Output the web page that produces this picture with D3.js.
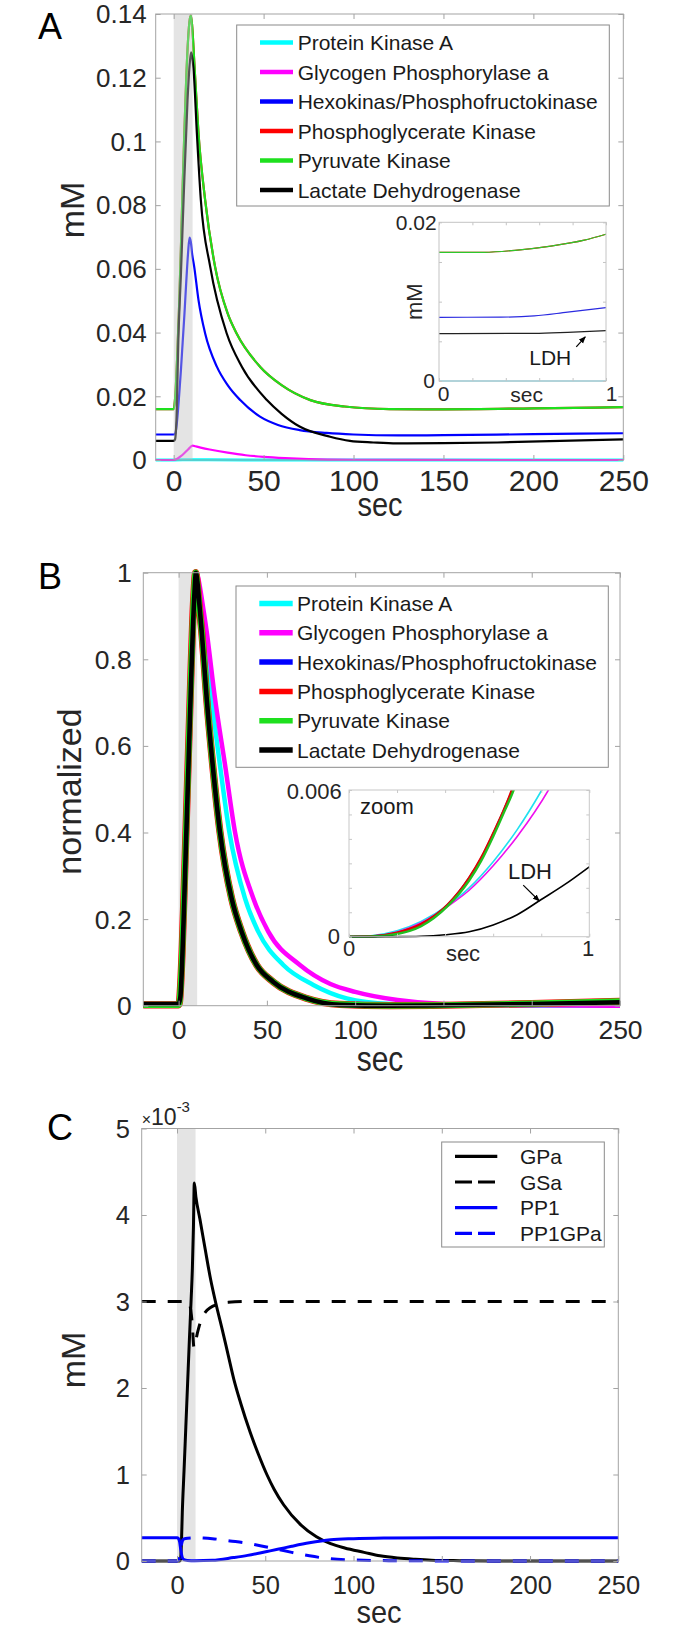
<!DOCTYPE html>
<html>
<head>
<meta charset="utf-8">
<script src="https://cdn.jsdelivr.net/npm/d3@7/dist/d3.min.js"></script>
<style>
html,body{margin:0;padding:0;background:#fff;}
svg text{font-family:"Liberation Sans",Arial,Helvetica,sans-serif;}
</style>
</head>
<body>
<svg id="fig" width="676" height="1632" xmlns="http://www.w3.org/2000/svg"></svg>
<script>
// ================= DATA =================
const seriesNames = ["Protein Kinase A","Glycogen Phosphorylase a","Hexokinas/Phosphofructokinase","Phosphoglycerate Kinase","Pyruvate Kinase","Lactate Dehydrogenase"];
const xTicks = [0,50,100,150,200,250];
const xTickLabels = ["0","50","100","150","200","250"];
const stimWindow = [0, 10.5];

// ---- Panel A (mM) ----
const yTicksA = [0,0.02,0.04,0.06,0.08,0.1,0.12,0.14];
const yTickLabelsA = ["0","0.02","0.04","0.06","0.08","0.1","0.12","0.14"];
const pkaA = [[-10,0],[0,0],[10,0.0001],[40,0.00003],[100,0],[250,0]];
const gpaA = [[-10,0],[0,0],[2,0.0004],[4,0.0012],[6,0.0022],[8,0.0033],[10.5,0.0045],[12,0.0043],[15,0.0039],[20,0.0033],[30,0.0023],[40,0.0015],[50,0.001],[62,0.0006],[75,0.0003],[100,0.00008],[130,0.00002],[250,0]];
const hkA = [[-10,0.008],[0,0.008],[0.5,0.0081],[1,0.0085],[2,0.013],[3,0.02],[4,0.028],[5,0.037],[6,0.046],[7,0.056],[8,0.065],[8.8,0.0698],[9.5,0.0685],[10.3,0.0645],[11.4,0.0607],[13.8,0.0502],[17.5,0.0397],[24,0.0293],[30,0.0235],[37,0.0188],[48,0.0136],[58,0.011],[70,0.0094],[85,0.0085],[100,0.008],[125,0.0077],[150,0.0078],[200,0.0081],[250,0.0084]];
const pkA = [[-10,0.016],[0,0.016],[1,0.021],[2,0.033],[3,0.048],[4,0.066],[5,0.086],[6,0.104],[7,0.12],[8,0.132],[9,0.1385],[9.6,0.1395],[10.3,0.136],[11.6,0.1234],[13.8,0.1025],[17.5,0.0816],[23,0.0607],[30,0.046],[35,0.0397],[48,0.0293],[60,0.0235],[76,0.0188],[95,0.0168],[120,0.016],[150,0.0159],[200,0.0162],[250,0.0166]];
const pgkA = pkA.map(d => [d[0], d[1]]);
const ldhA = [[-10,0.006],[0,0.006],[0.8,0.0065],[1.5,0.012],[2.7,0.0397],[4,0.058],[5.5,0.0816],[7.7,0.113],[9,0.125],[9.7,0.128],[10.5,0.1255],[11,0.123],[12.9,0.1025],[15.1,0.0816],[20.3,0.0607],[29.5,0.0397],[37.9,0.0293],[51.8,0.0188],[60,0.0145],[70,0.0105],[87,0.0073],[98,0.006],[111,0.0055],[124,0.0052],[150,0.0053],[180,0.0055],[215,0.006],[250,0.0065]];

// ---- Inset A (0-1 sec) ----
const inXTicksA = [0,0.2,0.4,0.6,0.8,1];
const inYTicksA = [0,0.005,0.01,0.015,0.02];
const pkaInA = [[0,0],[1,0]];
const gpaInA = [[0,0],[1,0]];
const hkInA = [[0,0.00803],[0.37,0.00805],[0.57,0.0082],[0.77,0.00868],[1,0.00924]];
const pkInA = [[0,0.0162],[0.27,0.01622],[0.47,0.0165],[0.67,0.017],[0.87,0.01775],[1,0.0185]];
const pgkInA = pkInA.map(d => [d[0], d[1]]);
const ldhInA = [[0,0.00597],[0.57,0.006],[0.77,0.00613],[1,0.00634]];

// ---- Panel B (normalized) ----
const yTicksB = [0,0.2,0.4,0.6,0.8,1];
const yTickLabelsB = ["0","0.2","0.4","0.6","0.8","1"];
const pkaB = [[-20,0],[0,0],[1,0.02],[2,0.1],[3,0.22],[4,0.35],[5,0.48],[6,0.61],[7,0.74],[8,0.86],[9,0.95],[10,1.0],[11,0.98],[12.5,0.93],[14.9,0.864],[18.7,0.71],[23.4,0.556],[28.7,0.402],[37.6,0.248],[45.1,0.171],[59.3,0.094],[76.3,0.048],[95.2,0.017],[120,0.004],[150,0.001],[200,0],[250,0]];
const gpaB = [[-20,0],[0,0],[1,0.02],[2,0.1],[3,0.22],[4,0.35],[5,0.48],[6,0.61],[7,0.74],[8,0.86],[9,0.95],[10.2,1.0],[11.5,0.98],[13.5,0.93],[15.9,0.864],[20.6,0.71],[26.3,0.556],[31.9,0.402],[42.3,0.248],[50.8,0.171],[68.7,0.094],[86,0.05],[100,0.032],[124,0.013],[150,0.004],[200,0.001],[250,0]];
const hkB = [[-20,0.002],[0,0.002],[0.5,0.008],[1,0.035],[2,0.125],[3,0.245],[4,0.375],[5,0.505],[6,0.635],[7,0.765],[8,0.885],[9,0.97],[9.5,1.0],[10.3,0.98],[11.6,0.925],[13.1,0.864],[15.9,0.71],[19.3,0.556],[23.4,0.402],[30,0.248],[35.7,0.171],[44.2,0.094],[53.6,0.055],[72.5,0.017],[91.3,0.003],[120,0],[150,0.001],[200,0.005],[250,0.01]];
const pgkB = [[-20,0.002],[0,0.002],[0.5,0.009],[1,0.037],[2,0.128],[3,0.25],[4,0.38],[5,0.51],[6,0.64],[7,0.77],[8,0.89],[9,0.972],[9.6,1.0],[10.4,0.98],[11.6,0.925],[13.1,0.864],[15.9,0.71],[19.3,0.556],[23.4,0.402],[30,0.248],[35.7,0.171],[44.2,0.094],[53.6,0.055],[72.5,0.017],[91.3,0.003],[120,0],[150,0.001],[200,0.005],[250,0.01]];
const pkB = [[-20,0.002],[0,0.002],[0.5,0.008],[1,0.033],[2,0.122],[3,0.242],[4,0.372],[5,0.502],[6,0.632],[7,0.762],[8,0.882],[9,0.968],[9.6,1.0],[10.4,0.98],[11.6,0.925],[13.1,0.864],[15.9,0.71],[19.3,0.556],[23.4,0.402],[30,0.248],[35.7,0.171],[44.2,0.094],[53.6,0.055],[72.5,0.017],[91.3,0.003],[120,0],[150,0.001],[200,0.005],[250,0.01]];
const ldhB = [[-20,0.004],[0,0.004],[1,0.02],[2,0.1],[3,0.22],[4,0.35],[5,0.48],[6,0.61],[7,0.74],[8,0.86],[9,0.955],[9.8,1.0],[10.6,0.98],[11.8,0.925],[13.1,0.864],[15.9,0.71],[19.3,0.556],[23.4,0.402],[30,0.248],[35.7,0.171],[44.2,0.094],[53.6,0.055],[72.5,0.017],[91.3,0.002],[120,0],[150,0.001],[200,0.004],[250,0.008]];

// ---- Inset B (0-1 sec, zoom) ----
const inXTicksB = [0,0.2,0.4,0.6,0.8,1];
const inYTicksB = [0,0.001,0.002,0.003,0.004,0.005,0.006];
const pkaInB = [[0,0],[0.1,0.00005],[0.2,0.00024],[0.3,0.00062],[0.413,0.0013],[0.5,0.002],[0.6,0.00307],[0.7,0.00438],[0.8,0.00596],[0.85,0.00684]];
const gpaInB = [[0,0],[0.1,0.00003],[0.2,0.00019],[0.3,0.00057],[0.42,0.0013],[0.5,0.0019],[0.6,0.0029],[0.7,0.0041],[0.83,0.006],[0.88,0.0069]];
const hkInB = [[0,0],[0.1,0.000017],[0.2,0.00015],[0.3,0.0005],[0.41,0.0013],[0.5,0.0024],[0.55,0.0032],[0.6,0.0042],[0.65,0.0053],[0.68,0.006],[0.72,0.0072]];
const pgkInB = [[0,0],[0.1,0.000018],[0.2,0.00016],[0.3,0.00051],[0.41,0.0013],[0.5,0.0024],[0.55,0.00322],[0.6,0.00422],[0.65,0.0053],[0.678,0.006],[0.72,0.0073]];
const pkInB = [[0,0],[0.1,0.00001],[0.2,0.00011],[0.3,0.00043],[0.41,0.00125],[0.5,0.0023],[0.55,0.0031],[0.6,0.0041],[0.65,0.0052],[0.685,0.006],[0.72,0.0071]];
const ldhInB = [[0,0],[0.2,0.000005],[0.3,0.00002],[0.4,0.00008],[0.5,0.0002],[0.6,0.00048],[0.7,0.0009],[0.8,0.00152],[0.9,0.00215],[1,0.00286]];

// ---- Panel C (mM, x10^-3) ----
const seriesNamesC = ["GPa","GSa","PP1","PP1GPa"];
const yTicksC = [0,1,2,3,4,5];
const yTickLabelsC = ["0","1","2","3","4","5"];
const gpaC = [[-20,0],[1.5,0],[2,0.02],[2.5,0.2],[3,0.56],[4,1.05],[5,1.55],[6,2.05],[7,2.55],[8,3.02],[8.7,3.38],[9.3,3.85],[9.8,4.37],[10.7,4.21],[13,3.95],[16,3.6],[19,3.26],[22,2.98],[25.7,2.67],[29,2.38],[32.2,2.1],[36,1.83],[41.6,1.48],[46,1.24],[50.9,1.0],[55,0.83],[60.4,0.65],[70,0.42],[79,0.28],[87,0.2],[95,0.15],[106,0.1],[115,0.06],[125,0.035],[135,0.02],[144,0.01],[160,0.004],[180,0.001],[210,0],[250,0]];
const gsaC = [[-20,3],[6,3],[7,2.98],[7.8,2.9],[8.6,2.75],[9.6,2.47],[10.2,2.47],[11,2.58],[12.5,2.71],[14,2.8],[16.2,2.88],[19,2.93],[22.8,2.965],[29,2.99],[40,3],[250,3]];
const pp1C = [[-20,0.27],[0,0.27],[0.8,0.26],[1.5,0.22],[2.2,0.12],[3,0.04],[4,0.015],[6,0.006],[10,0.003],[20,0.008],[32,0.04],[40,0.065],[51,0.11],[57,0.135],[65,0.17],[75,0.21],[87,0.245],[100,0.258],[120,0.266],[150,0.27],[250,0.27]];
const pp1gpaC = [[-20,0],[0,0],[0.8,0.01],[1.5,0.05],[2.2,0.15],[3,0.23],[4,0.255],[6,0.264],[10,0.268],[15,0.265],[20,0.258],[30,0.232],[40,0.205],[50,0.165],[57,0.135],[65,0.1],[75,0.06],[87,0.025],[100,0.012],[120,0.004],[150,0.001],[250,0]];

// ================= STYLE =================
const colors = ["#00ffff","#ff00ff","#0000ff","#ff0000","#1ee01e","#000000"];
const AX = "#a3a3a3", TXT = "#262626";

const svg = d3.select("#fig");
svg.append("rect").attr("width",676).attr("height",1632).attr("fill","#fff");
const defs = svg.append("defs");
defs.append("marker").attr("id","arr").attr("viewBox","0 0 10 10").attr("refX",9).attr("refY",5)
  .attr("markerWidth",6).attr("markerHeight",6).attr("orient","auto")
  .append("path").attr("d","M0,1L10,5L0,9z").attr("fill","#000");

function frame(g, x, y, o) {
  const [xl, xr] = x.range(), [yb, yt] = y.range();
  const col = o.col || AX;
  const mk = (axis, tr) => {
    const a = g.append("g").attr("transform", tr).call(axis);
    a.select(".domain").remove();
    a.selectAll(".tick line").attr("stroke", col);
    return a;
  };
  const bot = mk(d3.axisBottom(x).tickValues(o.xt).tickSize(-o.tl).tickFormat((d,i) => o.xl ? o.xl[i] : ""), `translate(0,${yb})`);
  bot.selectAll("text").attr("y", o.xOff || 0).attr("dy", null).attr("dominant-baseline","central")
     .attr("font-size", o.xfs || 10).attr("fill", TXT);
  mk(d3.axisTop(x).tickValues(o.xt).tickSize(-o.tl).tickFormat(""), `translate(0,${yt})`);
  const lef = mk(d3.axisLeft(y).tickValues(o.yt).tickSize(-o.tl).tickFormat((d,i) => o.yl ? o.yl[i] : ""), `translate(${xl},0)`);
  lef.selectAll("text").attr("x", o.yOff || 0).attr("dy","0.34em").attr("font-size", o.yfs || 10).attr("fill", TXT);
  mk(d3.axisRight(y).tickValues(o.yt).tickSize(-o.tl).tickFormat(""), `translate(${xr},0)`);
  g.append("rect").attr("x", xl).attr("y", yt).attr("width", xr - xl).attr("height", yb - yt)
    .attr("fill","none").attr("stroke", col).attr("stroke-width", 1);
}
const mkLine = (x, y) => d3.line().x(d => x(d[0])).y(d => y(d[1])).curve(d3.curveMonotoneX);
function drawSeries(g, gen, data, color, w, dash) {
  const p = g.append("path").datum(data).attr("d", gen).attr("fill","none")
    .attr("stroke", color).attr("stroke-width", w).attr("stroke-linejoin","round");
  if (dash) p.attr("stroke-dasharray", dash);
  return p;
}
function band(g, x, y, fill, op) {
  const [yb, yt] = y.range();
  g.append("rect").attr("x", x(stimWindow[0])).attr("y", yt)
    .attr("width", x(stimWindow[1]) - x(stimWindow[0])).attr("height", yb - yt)
    .attr("fill", fill).attr("fill-opacity", op);
}
function text(g, s, x, y, fs, opt = {}) {
  const t = g.append("text").attr("x", x).attr("y", y).attr("font-size", fs)
    .attr("fill", opt.fill || TXT).attr("text-anchor", opt.anchor || "middle").text(s);
  if (opt.db) t.attr("dominant-baseline", opt.db);
  if (opt.tr) t.attr("transform", opt.tr);
  return t;
}
function rotLabel(g, s, cx, cy, fs) {
  g.append("text").attr("transform", `translate(${cx},${cy}) rotate(-90)`).attr("font-size", fs)
    .attr("fill", TXT).attr("text-anchor","middle").attr("dominant-baseline","central").text(s);
}
function stretchLabel(g, s, cx, baseY, fs, k) {
  g.append("text").attr("transform", `translate(${cx},${baseY}) scale(1,${k})`).attr("font-size", fs)
    .attr("fill", TXT).attr("text-anchor","middle").text(s);
}
function legendBox(g, bx, by, bw, bh, rows) {
  g.append("rect").attr("x", bx).attr("y", by).attr("width", bw).attr("height", bh)
    .attr("fill","#fff").attr("stroke","#8a8a8a").attr("stroke-width",1);
  rows.forEach(r => {
    const l = g.append("line").attr("x1", r.x1).attr("x2", r.x2).attr("y1", r.y).attr("y2", r.y)
      .attr("stroke", r.color).attr("stroke-width", r.w);
    if (r.dash) l.attr("stroke-dasharray", r.dash);
    text(g, r.label, r.tx, r.y, r.fs, {anchor:"start", db:"central", fill:"#1a1a1a"});
  });
}

// ================= PANEL A =================
{
  const g = svg.append("g");
  const x = d3.scaleLinear().domain([-10,250]).range([155.7,623.3]);
  const y = d3.scaleLinear().domain([0,0.14]).range([460,14]);
  const gen = mkLine(x, y);
  const seriesA = [pkaA, gpaA, hkA, pgkA, pkA, ldhA];
  const widthsA = [3, 2.2, 2.2, 2.2, 2.2, 2.2];
  seriesA.forEach((s,i) => drawSeries(g, gen, s, colors[i], widthsA[i]));
  band(g, x, y, "#c2c2c2", 0.44);
  frame(g, x, y, {xt:xTicks, xl:xTickLabels, yt:yTicksA, yl:yTickLabelsA, tl:5, xOff:20, xfs:30, yOff:-9, yfs:26});
  text(g, "A", 50, 38.5, 36, {fill:"#000"});
  rotLabel(g, "mM", 72, 210, 34);
  stretchLabel(g, "sec", 380, 516, 29, 1.15);
  legendBox(g, 236.7, 25, 372.6, 181, seriesNames.map((n,i) => ({
    label:n, color:colors[i], w:4.5, y:42.5 + i*29.5, x1:260, x2:293, tx:297.7, fs:21 })));

  // inset
  const gi = svg.append("g");
  const xi = d3.scaleLinear().domain([0,1]).range([439,606]);
  const yi = d3.scaleLinear().domain([0,0.02]).range([381,222.3]);
  gi.append("rect").attr("x",439).attr("y",222.3).attr("width",167).attr("height",158.7).attr("fill","#fff");
  defs.append("clipPath").attr("id","clipA").append("rect").attr("x",439).attr("y",221).attr("width",167).attr("height",161);
  const gl = gi.append("g").attr("clip-path","url(#clipA)");
  const geni = mkLine(xi, yi);
  const seriesInA = [pkaInA, gpaInA, hkInA, pgkInA, pkInA, ldhInA];
  const inColA = ["#7fd8ea","#ff00ff","#2a2ae0","#ff0000","#2cc82c","#222222"];
  seriesInA.forEach((s,i) => { if (i !== 1) drawSeries(gl, geni, s, inColA[i], i===0?1.6:1.2); });
  frame(gi, xi, yi, {xt:inXTicksA, yt:inYTicksA, tl:3, col:"#c4c4c4"});
  text(gi, "0.02", 436.7, 222.5, 21, {anchor:"end", db:"central"});
  text(gi, "0", 435, 380, 21, {anchor:"end", db:"central"});
  text(gi, "0", 443.5, 393, 21, {db:"central"});
  text(gi, "1", 611.5, 393, 21, {db:"central"});
  text(gi, "sec", 526.7, 402, 21);
  rotLabel(gi, "mM", 414, 301.7, 22);
  text(gi, "LDH", xi(0.666), yi(0.0029), 21, {db:"central", fill:"#1a1a1a"});
  gi.append("line").attr("x1", xi(0.822)).attr("y1", yi(0.00431)).attr("x2", xi(0.876)).attr("y2", yi(0.00557))
    .attr("stroke","#000").attr("stroke-width",1.2).attr("marker-end","url(#arr)");
}

// ================= PANEL B =================
{
  const g = svg.append("g");
  const x = d3.scaleLinear().domain([-20,250]).range([143.3,620]);
  const y = d3.scaleLinear().domain([0,1]).range([1005.7,572.7]);
  const gen = mkLine(x, y);
  band(g, x, y, "#e4e4e4", 1);
  const seriesB = [pkaB, gpaB, hkB, pgkB, pkB, ldhB];
  const widthsB = [4.5, 4.5, 4.5, 7.2, 6.2, 4.6];
  seriesB.forEach((s,i) => drawSeries(g, gen, s, colors[i], widthsB[i]));
  frame(g, x, y, {xt:xTicks, xl:xTickLabels, yt:yTicksB, yl:yTickLabelsB, tl:5, xOff:24.3, xfs:26.5, yOff:-11.6, yfs:26.5});
  text(g, "B", 50, 588.5, 36, {fill:"#000"});
  rotLabel(g, "normalized", 69, 791.5, 34);
  stretchLabel(g, "sec", 380, 1071, 30, 1.15);
  legendBox(g, 236, 586, 372.3, 181.3, seriesNames.map((n,i) => ({
    label:n, color:colors[i], w:5.5, y:603.5 + i*29.3, x1:259.3, x2:292.7, tx:297, fs:21 })));

  // inset
  const gi = svg.append("g");
  const xi = d3.scaleLinear().domain([0,1]).range([349,589.3]);
  const yi = d3.scaleLinear().domain([0,0.006]).range([936.7,790]);
  gi.append("rect").attr("x",349).attr("y",790).attr("width",240.3).attr("height",146.7).attr("fill","#fff");
  defs.append("clipPath").attr("id","clipB").append("rect").attr("x",349).attr("y",790).attr("width",240.3).attr("height",148);
  const gl = gi.append("g").attr("clip-path","url(#clipB)");
  const geni = mkLine(xi, yi);
  const seriesInB = [pkaInB, gpaInB, hkInB, pgkInB, pkInB, ldhInB];
  const widthsInB = [1.6, 1.6, 2.2, 2.6, 2.4, 1.6];
  const inColB = ["#20e0f0","#ee10ee","#0000ff","#e00000","#20c020","#000000"];
  seriesInB.forEach((s,i) => drawSeries(gl, geni, s, inColB[i], widthsInB[i]));
  frame(gi, xi, yi, {xt:inXTicksB, yt:inYTicksB, tl:3, col:"#c8c8c8"});
  text(gi, "0.006", 341.7, 791.7, 22, {anchor:"end", db:"central"});
  text(gi, "0", 340, 936, 22, {anchor:"end", db:"central"});
  text(gi, "0", 349, 948, 22, {db:"central"});
  text(gi, "1", 588, 948, 22, {db:"central"});
  text(gi, "sec", 463, 961, 22);
  text(gi, "zoom", xi(0.046), yi(0.00533), 22, {anchor:"start", db:"central", fill:"#1a1a1a"});
  text(gi, "LDH", xi(0.753), yi(0.00267), 22, {db:"central", fill:"#1a1a1a"});
  gi.append("line").attr("x1", xi(0.725)).attr("y1", yi(0.00211)).attr("x2", xi(0.792)).attr("y2", yi(0.00146))
    .attr("stroke","#000").attr("stroke-width",1.2).attr("marker-end","url(#arr)");
}

// ================= PANEL C =================
{
  const g = svg.append("g");
  const x = d3.scaleLinear().domain([-20,250]).range([141.7,618.3]);
  const y = d3.scaleLinear().domain([0,5]).range([1561,1128.5]);
  const gen = mkLine(x, y);
  band(g, x, y, "#e4e4e4", 1);
  const seriesC = [gpaC, gsaC, pp1C, pp1gpaC];
  const colC = ["#000","#000","#0000ff","#0000ff"];
  const dashC = [null, "14,12", null, "14,12"];
  seriesC.forEach((s,i) => drawSeries(g, gen, s, colC[i], 3, dashC[i]));
  frame(g, x, y, {xt:xTicks, xl:xTickLabels, yt:yTicksC, yl:yTickLabelsC, tl:5, xOff:23.7, xfs:25.5, yOff:-11.7, yfs:25.5});
  text(g, "C", 60, 1140, 36, {fill:"#000"});
  const ex = g.append("text").attr("x", 141.7).attr("y", 1125).attr("fill", TXT).attr("text-anchor","start");
  ex.append("tspan").attr("font-size", 16).text("×");
  ex.append("tspan").attr("font-size", 23).text("10");
  ex.append("tspan").attr("font-size", 15).attr("dy", -13).text("-3");
  rotLabel(g, "mM", 73, 1360, 34);
  stretchLabel(g, "sec", 379, 1623, 29, 1.1);
  legendBox(g, 441.7, 1142, 162.6, 105, seriesNamesC.map((n,i) => ({
    label:n, color:colC[i], w:3.2, dash: dashC[i] ? "17,6" : null,
    y:1156.3 + i*25.7, x1:455, x2:497.3, tx:520, fs:21 })));
}
</script>
</body>
</html>
